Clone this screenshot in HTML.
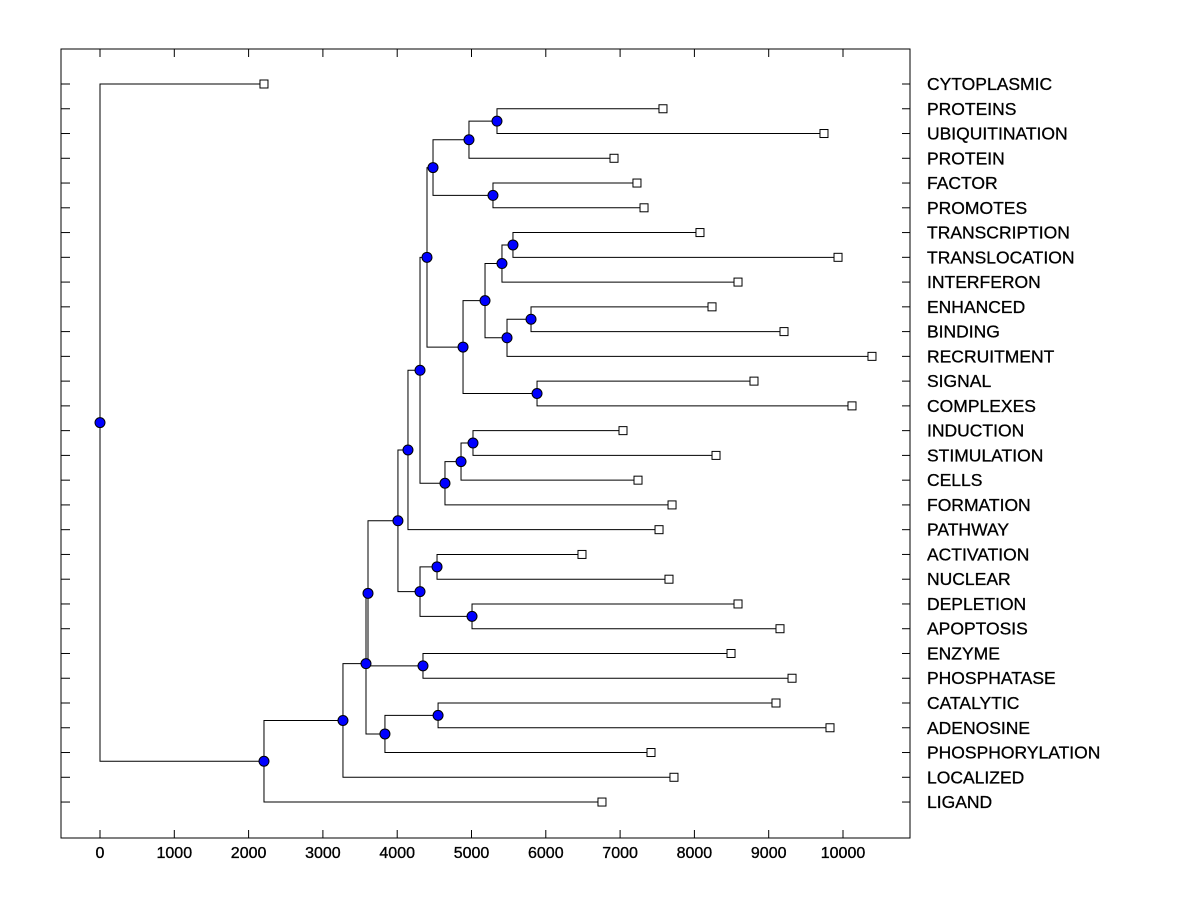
<!DOCTYPE html>
<html><head><meta charset="utf-8"><style>
html,body{margin:0;padding:0;background:#fff;}
svg{display:block;font-family:"Liberation Sans",Arial,sans-serif;}
</style></head><body>
<svg id="chart" width="1200" height="900"></svg>
<script>
const leafNames=["CYTOPLASMIC","PROTEINS","UBIQUITINATION","PROTEIN","FACTOR","PROMOTES","TRANSCRIPTION","TRANSLOCATION","INTERFERON","ENHANCED","BINDING","RECRUITMENT","SIGNAL","COMPLEXES","INDUCTION","STIMULATION","CELLS","FORMATION","PATHWAY","ACTIVATION","NUCLEAR","DEPLETION","APOPTOSIS","ENZYME","PHOSPHATASE","CATALYTIC","ADENOSINE","PHOSPHORYLATION","LOCALIZED","LIGAND"];
const leafValues=[2207,7577,9744,6918,7227,7322,8075,9933,8587,8237,9206,10390,8802,10121,7039,8291,7241,7699,7524,6487,7658,8587,9152,8493,9314,9098,9825,7416,7725,6756];
const mergeChildren=[["L1","L2"],["N0","L3"],["L4","L5"],["N1","N2"],["L6","L7"],["N4","L8"],["L9","L10"],["N6","L11"],["N5","N7"],["L12","L13"],["N8","N9"],["N3","N10"],["L14","L15"],["N12","L16"],["N13","L17"],["N11","N14"],["N15","L18"],["L19","L20"],["L21","L22"],["N17","N18"],["N16","N19"],["L23","L24"],["N20","N21"],["L25","L26"],["N23","L27"],["N22","N24"],["N25","L28"],["N26","L29"],["L0","N27"]];
const mergeHeights=[5343,4966,5289,4482,5558,5410,5801,5478,5182,5882,4886,4401,5020,4859,4643,4307,4145,4536,5007,4307,4010,4347,3607,4550,3835,3580,3270,2207,0];
const xTicks=[0,1000,2000,3000,4000,5000,6000,7000,8000,9000,10000];

const svg=document.getElementById('chart');
const NS='http://www.w3.org/2000/svg';
const X0=100,XS=0.0743;
const xs=v=>X0+v*XS;
const ys=i=>84+i*24.76;
const L=61,R=910,T=49,B=838;
function mk(tag,attrs,parent){const e=document.createElementNS(NS,tag);for(const k in attrs)e.setAttribute(k,attrs[k]);(parent||svg).appendChild(e);return e;}

const frame=mk('rect',{x:L,y:T,width:R-L,height:B-T,fill:'none',stroke:'#000','stroke-width':1});



const axisG=mk('g',{});


xTicks.forEach(t=>{
  const x=xs(t);
  mk('line',{x1:x,y1:B,x2:x,y2:B-8,stroke:'#000'},axisG);
  mk('line',{x1:x,y1:T,x2:x,y2:T+8,stroke:'#000'},axisG);
  const tx=mk('text',{x:x,y:858,'text-anchor':'middle','font-size':16,stroke:'#000','stroke-width':0.35},axisG);
  tx.textContent=t;
  
  
});

const linesG=mk('g',{stroke:'#000','stroke-width':1,fill:'none'});


const marksG=mk('g',{});

const pos={};
leafNames.forEach((n,i)=>{pos['L'+i]={x:xs(leafValues[i]),y:ys(i)};});
mergeChildren.forEach((c,i)=>{
  const a=pos[c[0]],b=pos[c[1]];
  const x=xs(mergeHeights[i]);
  pos['N'+i]={x:x,y:(a.y+b.y)/2};
  mk('path',{d:`M${a.x},${a.y}H${x}V${b.y}H${b.x}`},linesG);
});

leafNames.forEach((n,i)=>{
  const y=ys(i);
  mk('line',{x1:L,y1:y,x2:L+9,y2:y,stroke:'#000'});
  mk('line',{x1:R-8,y1:y,x2:R,y2:y,stroke:'#000'});
  const p=pos['L'+i];
  const sq=mk('rect',{x:p.x-4,y:y-4,width:8,height:8,fill:'#fff',stroke:'#000'},marksG);
  
  
  const t=mk('text',{x:927,y:y+6,'font-size':17.5,stroke:'#000','stroke-width':0.3});
  t.textContent=n;
  
  
});
mergeChildren.forEach((c,i)=>{
  const p=pos['N'+i];
  const ci=mk('circle',{cx:p.x,cy:p.y,r:5,fill:'#0000ff',stroke:'#000','stroke-width':1},marksG);
  
  
});
</script>
</body></html>
